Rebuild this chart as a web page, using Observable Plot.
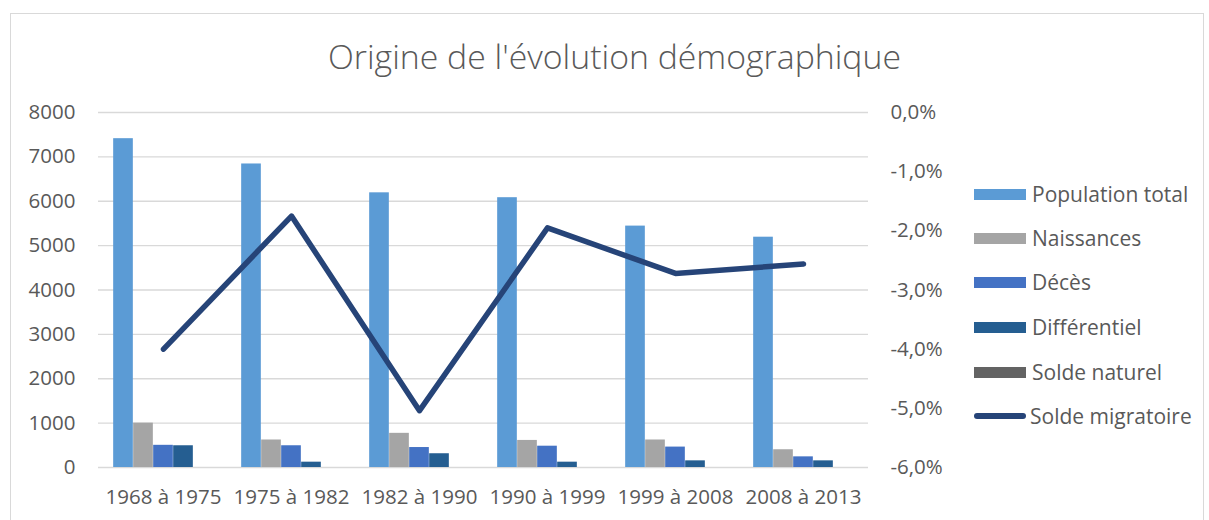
<!DOCTYPE html>
<html>
<head>
<meta charset="utf-8">
<script src="https://cdn.jsdelivr.net/npm/d3@7"></script>
<script src="https://cdn.jsdelivr.net/npm/@observablehq/plot@0.6"></script>
<style>
  html, body { margin: 0; padding: 0; background: #fff; }
  #chart { position: relative; width: 1209px; height: 520px; overflow: hidden; font-family: "Open Sans", sans-serif; color: #595959; }
  #frame { position: absolute; left: 10px; top: 13px; width: 1194px; height: 530px; border: 1.5px solid #d9d9d9; box-sizing: border-box; }
  #title { position: absolute; left: 0; width: 1229px; top: 36px; text-align: center; font-size: 33.8px; font-weight: 300; color: #595959; line-height: 40px; }
  #plot { position: absolute; left: 0; top: 0; }
  #legend { position: absolute; left: 974px; top: 0; }
  .item { position: absolute; left: 0; display: flex; align-items: center; height: 30px; white-space: nowrap; font-size: 21px; color: #595959; }
  .sw { width: 52px; height: 11px; margin-right: 6px; }
  .ln { width: 52px; height: 6px; border-radius: 3px; margin-right: 4px; }
</style>
</head>
<body>
<div id="chart">
  <div id="frame"></div>
  <div id="plot"></div>
  <div id="title">Origine de l'évolution démographique</div>
  <div id="legend"></div>
</div>
<script>
// ---- data ----
const periods = ["1968 à 1975", "1975 à 1982", "1982 à 1990", "1990 à 1999", "1999 à 2008", "2008 à 2013"];
const populationTotal = [7410, 6840, 6190, 6080, 5440, 5190];
const naissances = [1000, 620, 770, 610, 620, 400];
const deces = [500, 490, 450, 480, 460, 240];
const differentiel = [490, 120, 310, 120, 150, 150];
const soldeNaturel = [0, 0, 0, 0, 0, 0];
const soldeMigratoire = [-4.0, -1.75, -5.04, -1.95, -2.72, -2.56]; // percent, right axis
const leftTicks = [0, 1000, 2000, 3000, 4000, 5000, 6000, 7000, 8000];
const rightTicks = [0, -1, -2, -3, -4, -5, -6];
const seriesNames = ["Population total", "Naissances", "Décès", "Différentiel", "Solde naturel", "Solde migratoire"];
const seriesColors = ["#5b9bd5", "#a5a5a5", "#4472c4", "#255e91", "#636363", "#264478"];

// ---- build ----
const barSeries = [populationTotal, naissances, deces, differentiel, soldeNaturel];
const yMax = 8000, pMin = -6, pMax = 0;
const pctToY = p => (p - pMin) / (pMax - pMin) * yMax;

const W = 960, H = 520, mL = 98, mR = 92, mT = 112, mB = 53;
const step = (W - mL - mR) / periods.length;
const barW = 20;

const rows = periods.map((p, i) => ({
  period: p,
  values: barSeries.map(s => s[i]),
  pct: soldeMigratoire[i]
}));

const barMarks = barSeries.map((s, k) => Plot.barY(rows, {
  x: "period",
  y: d => d.values[k],
  fill: seriesColors[k],
  insetLeft: (step - barW) / 2,
  insetRight: (step - barW) / 2,
  dx: (k - 2) * barW
}));

const fmtPct = p => (p === 0 ? "0,0%" : p.toFixed(1).replace(".", ",") + "%");

const chart = Plot.plot({
  width: W, height: H,
  marginLeft: mL, marginRight: mR, marginTop: mT, marginBottom: mB,
  x: { domain: periods, padding: 0, label: null },
  y: { domain: [0, yMax], label: null },
  style: { fontFamily: "'Open Sans', sans-serif", fontSize: "20.5px", color: "#595959", background: "transparent", overflow: "visible" },
  marks: [
    Plot.gridY(leftTicks, { stroke: "#d9d9d9", strokeOpacity: 1, strokeWidth: 1.4 }),
    ...barMarks,
    Plot.line(rows, { x: "period", y: d => pctToY(d.pct), stroke: seriesColors[5], strokeWidth: 5.5, strokeLinecap: "round", strokeLinejoin: "round" }),
    Plot.axisY(leftTicks, { anchor: "left", tickSize: 0, tickPadding: 23, label: null, fill: "#595959", tickFormat: d => String(d) }),
    Plot.axisY(rightTicks.map(pctToY), { anchor: "right", tickSize: 0, tickPadding: 22, label: null, fill: "#595959",
      tickFormat: v => fmtPct(Math.round((v / yMax * (pMax - pMin) + pMin) * 10) / 10) }),
    Plot.axisX({ tickSize: 0, tickPadding: 22, label: null, fill: "#595959" })
  ]
});
document.getElementById("plot").appendChild(chart);

// legend
const legendRowsY = [194, 238, 282, 327, 372, 416];
const legend = document.getElementById("legend");
seriesNames.forEach((name, i) => {
  const item = document.createElement("div");
  item.className = "item";
  item.style.top = (legendRowsY[i] - 15) + "px";
  const sw = document.createElement("div");
  sw.className = i === 5 ? "ln" : "sw";
  sw.style.background = seriesColors[i];
  const tx = document.createElement("span");
  tx.textContent = name;
  item.appendChild(sw);
  item.appendChild(tx);
  legend.appendChild(item);
});
</script>
</body>
</html>
